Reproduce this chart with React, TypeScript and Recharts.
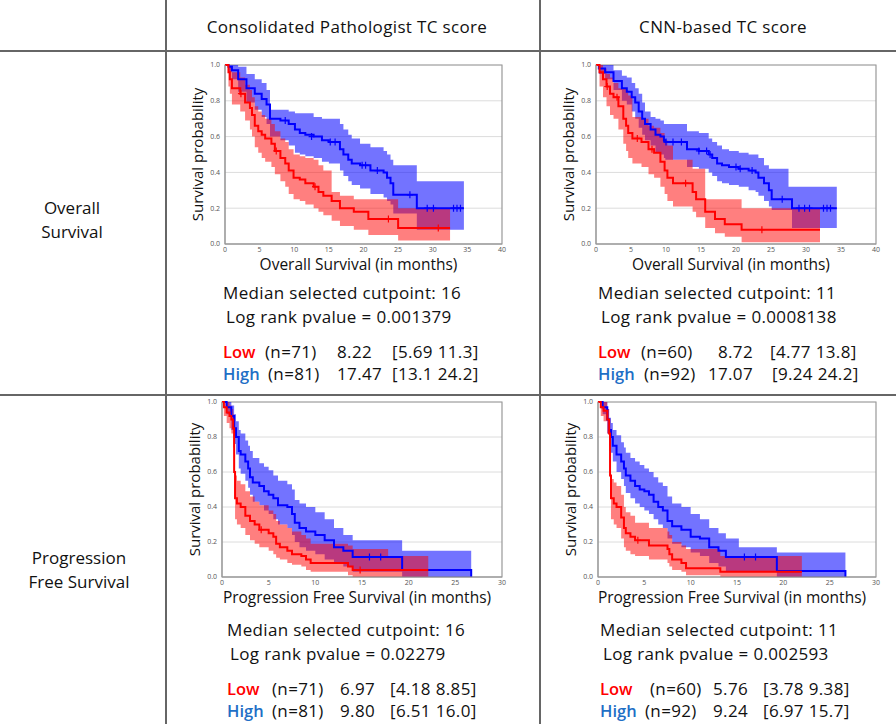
import React from 'react';
import {
  ComposedChart,
  Area,
  Line,
  Scatter,
  XAxis,
  YAxis,
  CartesianGrid,
  ReferenceArea,
  Label,
} from 'recharts';

// rows: [time (months), survival, lower CI, upper CI]
type Row = [number, number, number, number];
type Pt = [number, number];

const osPathHigh: Row[] = [
  [0, 1, 1, 1], [0.5, 0.99, 0.96, 1], [1, 0.97, 0.92, 1], [1.9, 0.92, 0.85, 0.99],
  [3.1, 0.87, 0.79, 0.95], [4.3, 0.84, 0.75, 0.92], [5.3, 0.81, 0.71, 0.9], [6, 0.78, 0.67, 0.86],
  [6.5, 0.7, 0.6, 0.75], [8, 0.69, 0.58, 0.75], [9.2, 0.67, 0.55, 0.74], [10.1, 0.64, 0.51, 0.73],
  [10.8, 0.62, 0.5, 0.73], [11.6, 0.61, 0.49, 0.73], [12.8, 0.6, 0.48, 0.71], [14, 0.58, 0.46, 0.7],
  [15, 0.57, 0.45, 0.7], [16.6, 0.53, 0.41, 0.67], [17.1, 0.5, 0.38, 0.64], [17.8, 0.47, 0.35, 0.61],
  [18.3, 0.45, 0.33, 0.59], [19.5, 0.44, 0.31, 0.56], [21, 0.41, 0.28, 0.54], [22.9, 0.4, 0.26, 0.52],
  [23.4, 0.37, 0.24, 0.5], [23.9, 0.34, 0.22, 0.47], [24.3, 0.275, 0.17, 0.44], [27.7, 0.2, 0.08, 0.35],
  [34.5, 0.2, 0.08, 0.35],
];
const osPathLow: Row[] = [
  [0, 1, 1, 1], [0.5, 0.96, 0.88, 1], [0.7, 0.92, 0.84, 0.99], [1, 0.87, 0.78, 0.96],
  [2.2, 0.84, 0.74, 0.93], [2.9, 0.79, 0.69, 0.89], [3.6, 0.76, 0.64, 0.86], [3.9, 0.72, 0.6, 0.82],
  [4.3, 0.66, 0.54, 0.77], [4.8, 0.63, 0.51, 0.74], [5.3, 0.61, 0.48, 0.72], [5.8, 0.59, 0.46, 0.7],
  [6.7, 0.56, 0.43, 0.67], [7.2, 0.52, 0.39, 0.63], [8, 0.48, 0.35, 0.59], [8.7, 0.45, 0.32, 0.57],
  [9.2, 0.41, 0.28, 0.53], [9.9, 0.37, 0.25, 0.5], [10.8, 0.36, 0.24, 0.49], [11.6, 0.34, 0.22, 0.48],
  [12.8, 0.32, 0.2, 0.47], [13.5, 0.29, 0.18, 0.44], [14.2, 0.27, 0.16, 0.41], [15.4, 0.24, 0.13, 0.29],
  [16.6, 0.2, 0.1, 0.27], [18.6, 0.18, 0.08, 0.25], [20.7, 0.14, 0.05, 0.25], [25, 0.09, 0.02, 0.2],
  [32.5, 0.09, 0.02, 0.2],
];
const osPathHighCens: Pt[] = [
  [8.7, 0.69], [12.5, 0.6], [15.2, 0.57], [15.9, 0.57], [19.8, 0.44], [20.3, 0.44], [22, 0.41],
  [26.7, 0.275], [29.2, 0.2], [30.1, 0.2], [33, 0.2], [33.5, 0.2], [34, 0.2],
];
const osPathLowCens: Pt[] = [[2.3, 0.84], [7.4, 0.52], [13, 0.32], [23.6, 0.14], [30.8, 0.09]];

const osCnnHigh: Row[] = [
  [0, 1, 1, 1], [0.4, 0.98, 0.95, 1], [1.3, 0.96, 0.92, 1], [2.5, 0.91, 0.86, 0.97],
  [3.7, 0.87, 0.8, 0.94], [4.4, 0.85, 0.78, 0.93], [5.1, 0.82, 0.74, 0.9], [5.6, 0.79, 0.7, 0.87],
  [6.1, 0.74, 0.65, 0.84], [6.6, 0.7, 0.61, 0.79], [7, 0.67, 0.58, 0.74], [7.8, 0.64, 0.55, 0.71],
  [8.5, 0.61, 0.51, 0.7], [9.2, 0.6, 0.5, 0.69], [9.7, 0.58, 0.48, 0.67], [9.9, 0.57, 0.47, 0.67],
  [13, 0.53, 0.43, 0.63], [14.7, 0.52, 0.42, 0.62], [16.1, 0.5, 0.4, 0.59], [16.6, 0.48, 0.38, 0.57],
  [17.3, 0.45, 0.35, 0.55], [18, 0.44, 0.34, 0.53], [19, 0.43, 0.33, 0.52], [20.4, 0.42, 0.32, 0.51],
  [21.8, 0.41, 0.3, 0.5], [22.8, 0.4, 0.29, 0.5], [23.2, 0.37, 0.27, 0.48], [24, 0.34, 0.24, 0.44],
  [24.7, 0.3, 0.21, 0.42], [25.1, 0.25, 0.19, 0.42], [27.5, 0.25, 0.19, 0.32], [28, 0.2, 0.09, 0.32],
  [34.4, 0.2, 0.09, 0.32],
];
const osCnnLow: Row[] = [
  [0, 1, 1, 1], [0.5, 0.96, 0.88, 1], [1, 0.92, 0.82, 0.98], [1.5, 0.88, 0.77, 0.95],
  [2, 0.84, 0.72, 0.93], [2.5, 0.82, 0.7, 0.9], [3.2, 0.77, 0.64, 0.87], [3.9, 0.7, 0.56, 0.87],
  [4.3, 0.66, 0.52, 0.86], [4.6, 0.62, 0.48, 0.83], [5.2, 0.59, 0.45, 0.71], [6.5, 0.57, 0.43, 0.7],
  [7.5, 0.53, 0.39, 0.66], [8.3, 0.51, 0.37, 0.65], [9.2, 0.46, 0.32, 0.62], [9.8, 0.41, 0.28, 0.58],
  [10.2, 0.37, 0.24, 0.55], [11, 0.34, 0.21, 0.47], [13.8, 0.29, 0.18, 0.42], [14.3, 0.25, 0.15, 0.42],
  [15.6, 0.18, 0.09, 0.25], [17, 0.14, 0.06, 0.25], [18.4, 0.11, 0.04, 0.25], [20.8, 0.08, 0.01, 0.2],
  [32, 0.08, 0.01, 0.2],
];
const osCnnHighCens: Pt[] = [
  [10, 0.57], [11, 0.57], [12.2, 0.57], [14.7, 0.52], [15.8, 0.52], [16.3, 0.5], [20, 0.43],
  [20.6, 0.42], [22.3, 0.41], [26.6, 0.25], [29, 0.2], [29.8, 0.2], [30.5, 0.2], [32.5, 0.2],
  [33, 0.2], [33.5, 0.2],
];
const osCnnLowCens: Pt[] = [[1.6, 0.88], [3, 0.82], [5.9, 0.59], [8, 0.53], [12.8, 0.34], [23.7, 0.08]];

const pfsPathHigh: Row[] = [
  [0, 1, 1, 1], [0.5, 0.97, 0.93, 1], [1, 0.92, 0.84, 0.98], [1.3, 0.85, 0.76, 0.93],
  [1.5, 0.8, 0.7, 0.89], [1.8, 0.72, 0.62, 0.84], [2, 0.7, 0.59, 0.82], [2.5, 0.66, 0.55, 0.78],
  [2.8, 0.62, 0.51, 0.75], [3, 0.57, 0.47, 0.72], [3.3, 0.54, 0.43, 0.68], [4, 0.52, 0.41, 0.65],
  [4.5, 0.49, 0.38, 0.63], [5, 0.47, 0.36, 0.61], [5.5, 0.45, 0.33, 0.58], [6, 0.41, 0.3, 0.55],
  [7, 0.4, 0.28, 0.53], [7.5, 0.36, 0.24, 0.5], [7.8, 0.31, 0.2, 0.44], [8.3, 0.28, 0.17, 0.42],
  [9, 0.26, 0.15, 0.4], [10, 0.24, 0.13, 0.37], [11, 0.21, 0.1, 0.33], [12, 0.17, 0.08, 0.28],
  [13, 0.15, 0.06, 0.24], [14, 0.115, 0.03, 0.21], [19.3, 0.04, 0, 0.15], [26.7, 0, 0, 0.15],
];
const pfsPathLow: Row[] = [
  [0, 1, 1, 1], [0.2, 0.97, 0.92, 1], [0.5, 0.94, 0.88, 1], [0.8, 0.92, 0.85, 0.98],
  [1, 0.9, 0.82, 0.96], [1.2, 0.85, 0.74, 0.93], [1.3, 0.6, 0.45, 0.7], [1.4, 0.45, 0.33, 0.58],
  [1.6, 0.42, 0.3, 0.55], [2, 0.4, 0.28, 0.53], [2.5, 0.35, 0.24, 0.49], [3, 0.32, 0.21, 0.46],
  [3.5, 0.3, 0.19, 0.43], [4, 0.27, 0.17, 0.41], [5, 0.25, 0.15, 0.38], [5.5, 0.23, 0.13, 0.36],
  [5.8, 0.19, 0.11, 0.32], [6.2, 0.17, 0.1, 0.3], [7, 0.15, 0.08, 0.28], [7.5, 0.13, 0.07, 0.26],
  [8.5, 0.12, 0.06, 0.24], [9, 0.1, 0.04, 0.22], [9.5, 0.08, 0.03, 0.19], [13.5, 0.06, 0.01, 0.18],
  [14, 0.04, 0, 0.16], [17.8, 0.04, 0, 0.12], [22.1, 0.04, 0, 0.12],
];
const pfsPathHighCens: Pt[] = [[15.8, 0.115], [17, 0.115]];
const pfsPathLowCens: Pt[] = [[4.2, 0.27], [14.8, 0.04]];

const pfsCnnHigh: Row[] = [
  [0, 1, 1, 1], [0.5, 0.97, 0.93, 1], [1, 0.9, 0.82, 0.96], [1.2, 0.84, 0.75, 0.91],
  [1.4, 0.8, 0.71, 0.88], [1.6, 0.75, 0.66, 0.84], [2, 0.7, 0.6, 0.81], [2.5, 0.66, 0.56, 0.77],
  [2.8, 0.62, 0.52, 0.74], [3, 0.58, 0.48, 0.71], [3.5, 0.55, 0.45, 0.68], [4, 0.52, 0.42, 0.66],
  [4.5, 0.5, 0.4, 0.64], [5, 0.49, 0.38, 0.62], [5.5, 0.47, 0.36, 0.6], [6, 0.43, 0.33, 0.57],
  [6.5, 0.4, 0.3, 0.54], [7, 0.38, 0.28, 0.52], [7.5, 0.32, 0.22, 0.46], [8, 0.29, 0.19, 0.42],
  [9, 0.27, 0.17, 0.4], [10, 0.23, 0.14, 0.36], [11, 0.22, 0.12, 0.33], [12, 0.17, 0.08, 0.28],
  [13, 0.15, 0.06, 0.25], [13.8, 0.115, 0.03, 0.22], [15.2, 0.115, 0.03, 0.17], [19.3, 0.035, 0, 0.14],
  [26.7, 0, 0, 0.14],
];
const pfsCnnLow: Row[] = [
  [0, 1, 1, 1], [0.3, 0.97, 0.92, 1], [0.6, 0.95, 0.89, 1], [1, 0.9, 0.82, 0.96],
  [1.2, 0.82, 0.72, 0.9], [1.3, 0.58, 0.45, 0.68], [1.4, 0.45, 0.33, 0.56], [1.7, 0.42, 0.3, 0.54],
  [2, 0.4, 0.28, 0.52], [2.5, 0.34, 0.22, 0.47], [2.8, 0.28, 0.17, 0.4], [3, 0.25, 0.15, 0.37],
  [3.5, 0.23, 0.13, 0.35], [4, 0.21, 0.12, 0.31], [5.5, 0.18, 0.1, 0.28], [7.5, 0.16, 0.08, 0.26],
  [7.7, 0.13, 0.06, 0.24], [8, 0.1, 0.04, 0.2], [9, 0.08, 0.03, 0.18], [9.5, 0.05, 0.01, 0.16],
  [13.2, 0.03, 0, 0.12], [22, 0.03, 0, 0.12],
];
const pfsCnnHighCens: Pt[] = [[15.8, 0.115], [17, 0.115]];
const pfsCnnLowCens: Pt[] = [[4.3, 0.21]];

const osTicks = [0, 5, 10, 15, 20, 25, 30, 35, 40];
const pfsTicks = [0, 5, 10, 15, 20, 25, 30];
const yTicks = [0, 0.2, 0.4, 0.6, 0.8, 1];

const FONT = '"Open Sans", Lato, sans-serif';
const BLUE = '#0000ff';
const RED = '#ff0000';

const toRows = (rows: Row[]) => rows.map(([t, s, lo, hi]) => ({ t, s, lo, hi }));
const toPts = (pts: Pt[]) => pts.map(([t, s]) => ({ t, s }));

const Cross = (props: any) => {
  const { cx, cy, fill } = props;
  if (cx == null || cy == null) return null;
  return (
    <path
      d={`M${cx - 3},${cy}H${cx + 3}M${cx},${cy - 3.5}V${cy + 3.5}`}
      stroke={fill}
      strokeWidth={1.2}
      fill="none"
    />
  );
};

const YW = 45;
const MT = 5;
const MR = 6;
const XH = 32;

type KMProps = {
  plotLeft: number;
  plotTop: number;
  plotW: number;
  plotH: number;
  xMax: number;
  xTicks: number[];
  xLabel: string;
  high: Row[];
  low: Row[];
  highCens: Pt[];
  lowCens: Pt[];
};

const KMChart = (p: KMProps) => {
  const high = toRows(p.high);
  const low = toRows(p.low);
  return (
    <div style={{ position: 'absolute', left: p.plotLeft - YW, top: p.plotTop - MT }}>
      <ComposedChart
        width={YW + p.plotW + MR}
        height={MT + p.plotH + XH}
        margin={{ top: MT, right: MR, left: 0, bottom: 0 }}
        style={{ fontFamily: FONT }}
      >
        <CartesianGrid horizontal vertical={false} stroke="#dcdcdc" />
        <XAxis
          type="number"
          dataKey="t"
          domain={[0, p.xMax]}
          ticks={p.xTicks}
          allowDataOverflow
          height={XH}
          tickLine={false}
          tickSize={2}
          tickMargin={1}
          axisLine={{ stroke: '#999' }}
          tick={{ fontSize: 7, fill: '#555' }}
        >
          <Label value={p.xLabel} position="insideBottom" offset={6} dx={-5} style={{ fontSize: 15.5, fill: '#111' }} />
        </XAxis>
        <YAxis
          type="number"
          dataKey="s"
          domain={[0, 1]}
          ticks={yTicks}
          width={YW}
          tickLine={false}
          tickSize={3}
          tickMargin={2}
          axisLine={{ stroke: '#999' }}
          tick={{ fontSize: 7, fill: '#555' }}
          tickFormatter={(v: number) => v.toFixed(1)}
        >
          <Label
            value="Survival probability"
            angle={-90}
            position="insideLeft"
            offset={18}
            style={{ fontSize: 15, fill: '#111', textAnchor: 'middle' }}
          />
        </YAxis>
        <ReferenceArea x1={0} x2={p.xMax} y1={0} y2={1} fill="none" stroke="#999" strokeWidth={1.2} ifOverflow="visible" />
        <Area
          data={high}
          type="stepAfter"
          dataKey={(d: any) => [d.lo, d.hi]}
          stroke="none"
          fill={BLUE}
          fillOpacity={0.55}
          isAnimationActive={false}
        />
        <Line data={high} type="stepAfter" dataKey="s" stroke={BLUE} strokeWidth={2} dot={false} isAnimationActive={false} />
        <Scatter data={toPts(p.highCens)} dataKey="s" fill={BLUE} shape={Cross} isAnimationActive={false} />
        <Area
          data={low}
          type="stepAfter"
          dataKey={(d: any) => [d.lo, d.hi]}
          stroke="none"
          fill={RED}
          fillOpacity={0.5}
          isAnimationActive={false}
        />
        <Line data={low} type="stepAfter" dataKey="s" stroke={RED} strokeWidth={2} dot={false} isAnimationActive={false} />
        <Scatter data={toPts(p.lowCens)} dataKey="s" fill={RED} shape={Cross} isAnimationActive={false} />
      </ComposedChart>
    </div>
  );
};

const T = ({ x, y, children, size = 17, color = '#111', anchor = 'start', weight = 400, ls = 0.35 }: any) => (
  <div
    style={{
      position: 'absolute',
      left: anchor === 'start' ? x : undefined,
      right: anchor === 'end' ? 896 - x : undefined,
      top: y - 12,
      height: 24,
      lineHeight: '24px',
      fontSize: size,
      letterSpacing: ls,
      color,
      whiteSpace: 'nowrap',
      fontWeight: weight,
      ...(anchor === 'middle' ? { left: x - 200, width: 400, textAlign: 'center' } : {}),
    }}
  >
    {children}
  </div>
);

const HIGH_C = '#1f6fc6';

type Stat = { cut: string; p: string; lowN: string; lowM: string; lowCI: string; highN: string; highM: string; highCI: string };

const statsOsPath: Stat = { cut: '16', p: '0.001379', lowN: '(n=71)', lowM: '8.22', lowCI: '[5.69 11.3]', highN: '(n=81)', highM: '17.47', highCI: '[13.1 24.2]' };
const statsOsCnn: Stat = { cut: '11', p: '0.0008138', lowN: '(n=60)', lowM: '8.72', lowCI: '[4.77 13.8]', highN: '(n=92)', highM: '17.07', highCI: '[9.24 24.2]' };
const statsPfsPath: Stat = { cut: '16', p: '0.02279', lowN: '(n=71)', lowM: '6.97', lowCI: '[4.18 8.85]', highN: '(n=81)', highM: '9.80', highCI: '[6.51 16.0]' };
const statsPfsCnn: Stat = { cut: '11', p: '0.002593', lowN: '(n=60)', lowM: '5.76', lowCI: '[3.78 9.38]', highN: '(n=92)', highM: '9.24', highCI: '[6.97 15.7]' };

const StatBlock = ({ s, x, y, cols, mAnchor }: { s: Stat; x: number; y: number; cols: number[][]; mAnchor: string }) => (
  <>
    <T x={x} y={y}>Median selected cutpoint: {s.cut}</T>
    <T x={x + 3} y={y + 24}>Log rank pvalue = {s.p}</T>
    <T x={x} y={y + 59} color={RED} weight={600} ls={0} size={16.5}>Low</T>
    <T x={cols[0][0]} y={y + 59}>{s.lowN}</T>
    <T x={cols[1][0]} y={y + 59} anchor={mAnchor}>{s.lowM}</T>
    <T x={cols[2][0]} y={y + 59}>{s.lowCI}</T>
    <T x={x} y={y + 81} color={HIGH_C} weight={600} ls={0} size={16.5}>High</T>
    <T x={cols[0][1]} y={y + 81}>{s.highN}</T>
    <T x={cols[1][1]} y={y + 81} anchor={mAnchor}>{s.highM}</T>
    <T x={cols[2][1]} y={y + 81}>{s.highCI}</T>
  </>
);

const LINE = '#666';

export default function App() {
  return (
    <div
      style={{
        position: 'absolute',
        left: 0,
        top: 0,
        width: 896,
        height: 724,
        background: '#fff',
        fontFamily: FONT,
        overflow: 'hidden',
      }}
    >
      {/* table lines */}
      <div style={{ position: 'absolute', left: 165, top: 0, width: 2, height: 724, background: LINE }} />
      <div style={{ position: 'absolute', left: 539, top: 0, width: 2, height: 724, background: LINE }} />
      <div style={{ position: 'absolute', left: 0, top: 50, width: 896, height: 2, background: LINE }} />
      <div style={{ position: 'absolute', left: 0, top: 394, width: 896, height: 2, background: LINE }} />

      <T x={347} y={27} anchor="middle" size={17}>Consolidated Pathologist TC score</T>
      <T x={723} y={27} anchor="middle" size={17}>CNN-based TC score</T>

      <T x={72} y={208} anchor="middle" size={17} ls={0}>Overall</T>
      <T x={72} y={232} anchor="middle" size={17} ls={0}>Survival</T>
      <T x={79} y={558} anchor="middle" size={17} ls={0}>Progression</T>
      <T x={79} y={582} anchor="middle" size={17} ls={0}>Free Survival</T>

      <KMChart plotLeft={225} plotTop={65} plotW={277} plotH={179} xMax={40} xTicks={osTicks}
        xLabel="Overall Survival  (in months)" high={osPathHigh} low={osPathLow}
        highCens={osPathHighCens} lowCens={osPathLowCens} />
      <KMChart plotLeft={596} plotTop={65} plotW={280} plotH={179} xMax={40} xTicks={osTicks}
        xLabel="Overall Survival (in months)" high={osCnnHigh} low={osCnnLow}
        highCens={osCnnHighCens} lowCens={osCnnLowCens} />
      <KMChart plotLeft={222} plotTop={402} plotW={280} plotH={175} xMax={30} xTicks={pfsTicks}
        xLabel="Progression Free Survival (in months)" high={pfsPathHigh} low={pfsPathLow}
        highCens={pfsPathHighCens} lowCens={pfsPathLowCens} />
      <KMChart plotLeft={598} plotTop={402} plotW={278} plotH={175} xMax={30} xTicks={pfsTicks}
        xLabel="Progression Free Survival (in months)" high={pfsCnnHigh} low={pfsCnnLow}
        highCens={pfsCnnHighCens} lowCens={pfsCnnLowCens} />

      <StatBlock s={statsOsPath} x={223} y={293} cols={[[265, 268], [337, 337], [392, 392]]} mAnchor="start" />
      <StatBlock s={statsOsCnn} x={598} y={293} cols={[[641, 644], [753, 753], [770, 772]]} mAnchor="end" />
      <StatBlock s={statsPfsPath} x={227} y={630} cols={[[272, 272], [340, 340], [390, 390]]} mAnchor="start" />
      <StatBlock s={statsPfsCnn} x={600} y={630} cols={[[650, 645], [713, 713], [763, 763]]} mAnchor="start" />
    </div>
  );
}
